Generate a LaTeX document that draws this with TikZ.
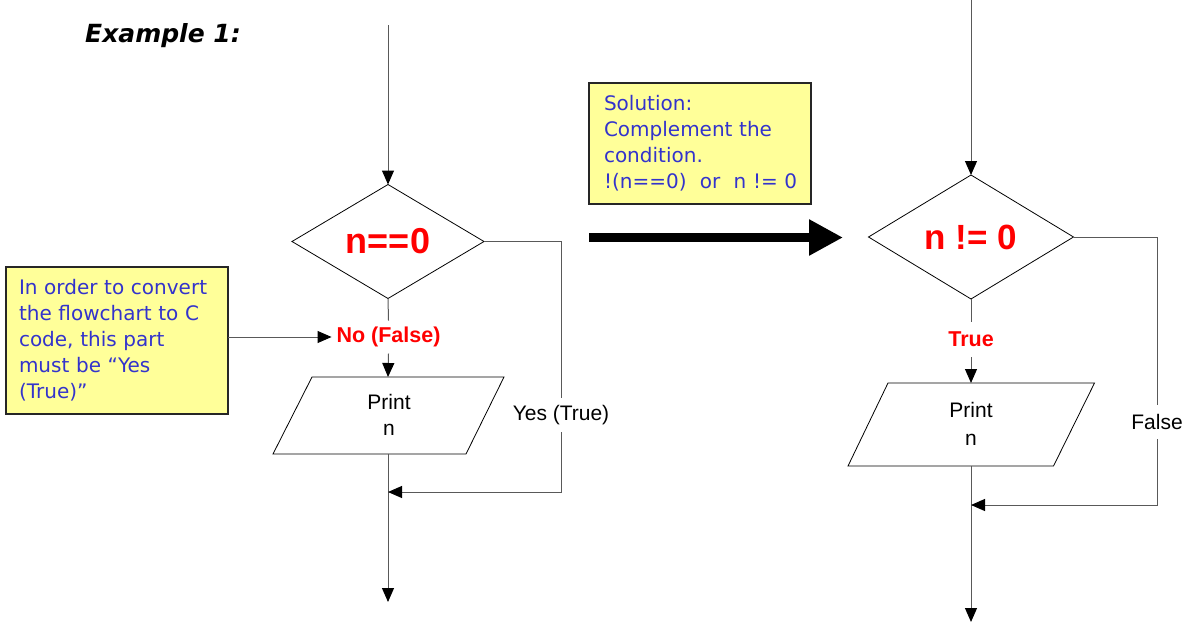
\documentclass[tikz,border=0pt]{standalone}
\usepackage{fontspec}
\setmainfont{Liberation Sans}
\newfontfamily\notefont{DejaVu Sans}
\usetikzlibrary{arrows.meta,shapes.geometric}
\definecolor{noteyellow}{HTML}{FFFF99}
\definecolor{noteblue}{HTML}{3333CC}
\definecolor{hotred}{HTML}{FF0000}
\tikzset{
  conn/.style={draw=black!65, line width=1pt},
  arr/.style={-{Triangle[length=14pt,width=12pt,color=black]}},
  dec/.style={shape=diamond, draw=black, line width=0.8pt, inner sep=0pt, outer sep=0pt,
              font=\bfseries\fontsize{36}{40}\selectfont, text=hotred},
  note/.style={draw=black!85, line width=1.2pt, fill=noteyellow, text=noteblue,
               font=\notefont\fontsize{20}{26}\selectfont, align=left, outer sep=0pt},
  lbl/.style={font=\fontsize{21}{25}\selectfont, inner xsep=5pt, inner ysep=0pt, outer sep=0pt},
  redlbl/.style={lbl, font=\bfseries\fontsize{21.5}{25}\selectfont, text=hotred},
  io/.style={draw=black, line width=0.8pt, fill=white},
  printtxt/.style={align=center, inner sep=0pt},
}
\begin{document}
\begin{tikzpicture}[x=1pt,y=-1pt]
\useasboundingbox (0,0) rectangle (1198,624);

% title
\node[anchor=base west, inner sep=0pt,
      font=\notefont\bfseries\itshape\fontsize{25}{28}\selectfont] (title) at (85,42) {Example 1:};

% ---------- left flowchart ----------
\coordinate (L0) at (388,25);
\node[dec, minimum width=192pt, minimum height=114pt] (d1) at (388,241.5) {n==0};
\node[redlbl, minimum height=33pt] (no) at (388.5,337) {No (False)};
\draw[io] (312,377) -- (504,377) -- (466,454) -- (273,454) -- cycle;
\coordinate (p1t) at (388,377);
\coordinate (p1b) at (388,454);
\node[printtxt, font=\fontsize{21}{26}\selectfont] (p1) at (389,415) {Print\\n};
\coordinate (j1) at (388,492);
\coordinate (e1) at (388,602);
\node[lbl, minimum height=34pt] (yes) at (561,415) {Yes (True)};

\draw[conn,arr] (L0) -- (d1.north);
\draw[conn] (d1.south) -- (no.north);
\draw[conn,arr] (no.south) -- (p1t);
\draw[conn,arr] (p1b) -- (e1);
\draw[conn] (d1.east) -| (yes.north);
\draw[conn,arr] (yes.south) |- (j1);

% left note
\node[note, text width=196pt, inner xsep=13pt, minimum height=147pt] (b1) at (117,340.5)
  {In order to convert\\the flowchart to C\\code, this part\\must be “Yes\\(True)”};
\draw[conn,arr] (b1.east |- no.west) -- (no.west);

% ---------- solution note & big arrow ----------
\node[note, text width=192pt, inner xsep=15pt, minimum height=121pt] (b2) at (700,143.5)
  {Solution:\\Complement the\\condition.\\\mbox{!(n==0)\ \ or\ \ n != 0}};
\coordinate (ta) at (589,237.5);
\coordinate (tb) at (843,237.5);
\draw[line width=9pt, -{Triangle[length=34pt,width=34pt]}] (ta) -- (tb);

% ---------- right flowchart ----------
\coordinate (R0) at (971,0);
\node[dec, minimum width=205pt, minimum height=124pt, font=\bfseries\fontsize{35}{40}\selectfont] (d2) at (971,237) {n != 0};
\node[redlbl, minimum height=35pt] (tr) at (971,339.5) {True};
\draw[io] (888,383) -- (1094.5,383) -- (1053.5,466) -- (848,466) -- cycle;
\coordinate (p2t) at (971,383);
\coordinate (p2b) at (971,466);
\node[printtxt, font=\fontsize{21}{28}\selectfont] (p2) at (971,424) {Print\\n};
\coordinate (j2) at (971,505);
\coordinate (e2) at (971,622);
\node[lbl, minimum height=34pt] (fal) at (1157,422) {False};

\draw[conn,arr] (R0) -- (d2.north);
\draw[conn] (d2.south) -- (tr.north);
\draw[conn,arr] (tr.south) -- (p2t);
\draw[conn,arr] (p2b) -- (e2);
\draw[conn] (d2.east) -| (fal.north);
\draw[conn,arr] (fal.south) |- (j2);
\end{tikzpicture}
\end{document}
